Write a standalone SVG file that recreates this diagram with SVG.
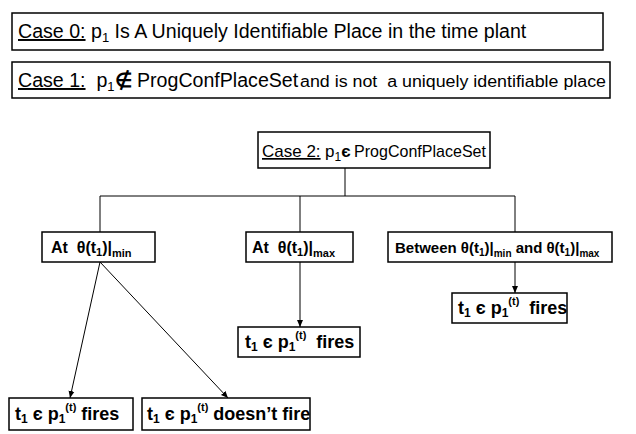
<svg xmlns="http://www.w3.org/2000/svg" width="636" height="434" viewBox="0 0 636 434">
<defs>
<style>
.box{fill:#fff;stroke:#000;stroke-width:1.5}
.big{font-family:"Liberation Sans",Arial,sans-serif;font-size:19.6px;fill:#000;white-space:pre}
.small{font-family:"Liberation Sans",Arial,sans-serif;font-size:16px;fill:#000;white-space:pre}
.b{font-family:"Liberation Sans",Arial,sans-serif;font-size:16px;font-weight:bold;fill:#000;white-space:pre}
.bf{font-family:"Liberation Sans",Arial,sans-serif;font-size:18px;font-weight:bold;fill:#000;white-space:pre}
.u{text-decoration:underline}
.ln{stroke:#000;stroke-width:1;fill:none}
</style>
<marker id="ah" markerWidth="8" markerHeight="8" refX="7" refY="4" orient="auto" markerUnits="userSpaceOnUse">
<path d="M0,1 L7,4 L0,7 Z" fill="#000"/>
</marker>
</defs>
<rect width="636" height="434" fill="#fff"/>

<g id="case0">
<rect class="box" x="12" y="13" width="591" height="37"/>
<text class="big" x="18" y="38" xml:space="preserve"><tspan class="u">Case 0:</tspan> p<tspan font-size="13" dy="4">1</tspan><tspan dy="-4"> Is A Uniquely Identifiable Place in the time plant</tspan></text>
</g>

<g id="case1">
<rect class="box" x="12" y="62" width="598" height="36"/>
<text class="big" x="18" y="87" xml:space="preserve"><tspan class="u">Case 1:</tspan>  p<tspan font-size="13" dy="4">1</tspan><tspan dy="-4" font-weight="bold">∉</tspan> ProgConfPlaceSet</text>
<text class="small" x="300" y="87" textLength="306" lengthAdjust="spacingAndGlyphs" xml:space="preserve">and is not  a uniquely identifiable place</text>
</g>

<g id="case2">
<rect class="box" x="258" y="132" width="232" height="36"/>
<text class="big" x="262" y="157" style="font-size:17px"><tspan class="u">Case 2:</tspan></text>
<text class="big" x="325" y="157" style="font-size:17px">p<tspan font-size="12" dy="4">1</tspan><tspan dy="-4" font-weight="bold">є</tspan></text>
<text class="big" x="354" y="157" style="font-size:17px" textLength="132" lengthAdjust="spacingAndGlyphs">ProgConfPlaceSet</text>
</g>

<g id="connectors">
<line class="ln" x1="345" y1="168" x2="345" y2="196"/>
<line class="ln" x1="100" y1="196" x2="515" y2="196"/>
<line class="ln" x1="100" y1="196" x2="100" y2="232"/>
<line class="ln" x1="300" y1="196" x2="300" y2="232"/>
<line class="ln" x1="515" y1="196" x2="515" y2="232"/>
<line class="ln" x1="300" y1="262" x2="300" y2="327" marker-end="url(#ah)"/>
<line class="ln" x1="515" y1="262" x2="515" y2="293" marker-end="url(#ah)"/>
<line class="ln" x1="100" y1="262" x2="70" y2="398" marker-end="url(#ah)"/>
<line class="ln" x1="100" y1="262" x2="228" y2="398" marker-end="url(#ah)"/>
</g>

<g id="atmin">
<rect class="box" x="42" y="232" width="113" height="30"/>
<text class="b" x="51" y="253" xml:space="preserve">At  θ(t<tspan font-size="11" dy="3">1</tspan><tspan dy="-3">)|</tspan><tspan font-size="11" dy="4">min</tspan></text>
</g>

<g id="atmax">
<rect class="box" x="246" y="232" width="107" height="30"/>
<text class="b" x="252" y="253" xml:space="preserve">At  θ(t<tspan font-size="11" dy="3">1</tspan><tspan dy="-3">)|</tspan><tspan font-size="11" dy="4">max</tspan></text>
</g>

<g id="between">
<rect class="box" x="388" y="232" width="224" height="30"/>
<text class="b" x="395" y="253" style="font-size:15px" xml:space="preserve">Between θ(t<tspan font-size="10" dy="3">1</tspan><tspan dy="-3">)|</tspan><tspan font-size="10" dy="4">min</tspan><tspan dy="-4"> and θ(t</tspan><tspan font-size="10" dy="3">1</tspan><tspan dy="-3">)|</tspan><tspan font-size="10" dy="4">max</tspan></text>
</g>

<g id="fires_max">
<rect class="box" x="238" y="327" width="122" height="30"/>
<text class="bf" x="245" y="348" xml:space="preserve">t<tspan font-size="12" dy="3">1</tspan><tspan dy="-3"> є p</tspan><tspan font-size="12" dy="3">1</tspan><tspan font-size="11" dy="-12">(t)</tspan><tspan dy="9">  fires</tspan></text>
</g>

<g id="fires_between">
<rect class="box" x="452" y="293" width="115" height="30"/>
<text class="bf" x="458" y="314" xml:space="preserve">t<tspan font-size="12" dy="3">1</tspan><tspan dy="-3"> є p</tspan><tspan font-size="12" dy="3">1</tspan><tspan font-size="11" dy="-12">(t)</tspan><tspan dy="9">  fires</tspan></text>
</g>

<g id="fires_min">
<rect class="box" x="9" y="398" width="124" height="32"/>
<text class="bf" x="15" y="420" xml:space="preserve">t<tspan font-size="12" dy="3">1</tspan><tspan dy="-3"> є p</tspan><tspan font-size="12" dy="3">1</tspan><tspan font-size="11" dy="-12">(t)</tspan><tspan dy="9"> fires</tspan></text>
</g>

<g id="nofire_min">
<rect class="box" x="142" y="398" width="168" height="32"/>
<text class="bf" x="147" y="420" xml:space="preserve">t<tspan font-size="12" dy="3">1</tspan><tspan dy="-3"> є p</tspan><tspan font-size="12" dy="3">1</tspan><tspan font-size="11" dy="-12">(t)</tspan><tspan dy="9"> doesn’t fire</tspan></text>
</g>
</svg>
